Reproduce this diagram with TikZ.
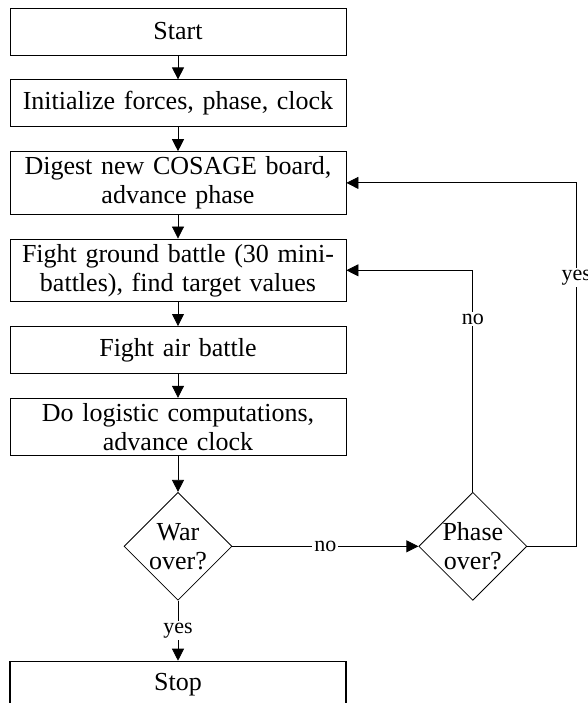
\documentclass[tikz,border=0pt]{standalone}
\usepackage{fontspec}
\setmainfont{Liberation Serif}
\usetikzlibrary{arrows.meta,positioning,shapes.geometric}

\begin{document}
\begin{tikzpicture}[
  node distance=24pt and 186pt,
  box/.style={draw, line width=0.8pt, minimum height=47pt, text width=326pt, inner sep=5pt, align=center, font=\fontsize{26}{29}\selectfont},
  test/.style={draw, diamond, aspect=1, line width=0.8pt, minimum width=108pt, minimum height=108pt, inner sep=0pt, align=center, font=\fontsize{26}{29}\selectfont},
  lbl/.style={fill=white, inner sep=2pt, font=\fontsize{22}{24}\selectfont},
  arr/.style={-{Triangle[length=12pt,width=12pt]}, line width=0.8pt}
]
  \useasboundingbox (0,0) rectangle (587pt,-703pt);
  \node[box] (st) at (178pt,-31.5pt) {Start};
  \node[box, below=of st] (in) {Initialize forces, phase, clock};
  \node[box, below=of in] (dg) {Digest new COSAGE board,\\advance phase};
  \node[box, below=of dg] (fg) {Fight ground battle (30 mini-\\battles), find target values};
  \node[box, below=of fg] (fa) {Fight air battle};
  \node[box, below=of fa] (lg) {Do logistic computations,\\advance clock};
  \node[test, below=36pt of lg] (wr) {War\\over?};
  \node[test, right=of wr] (ph) {Phase\\over?};
  \node[box, line width=1.6pt, below=60pt of wr] (sp) {Stop};
  \coordinate[right=49pt of ph.east] (turn);
  \draw[arr] (st) -- (in);
  \draw[arr] (in) -- (dg);
  \draw[arr] (dg) -- (fg);
  \draw[arr] (fg) -- (fa);
  \draw[arr] (fa) -- (lg);
  \draw[arr] (lg) -- (wr);
  \draw[arr] (wr) -- node[lbl] {no} (ph);
  \draw[arr] (wr) -- node[lbl] {yes} (sp);
  \draw[arr] (ph) |- node[lbl, pos=0.39] {no} (fg);
  \draw[arr] (ph.east) -- (turn) |- node[lbl, pos=0.37] {yes} (dg);
\end{tikzpicture}
\end{document}
